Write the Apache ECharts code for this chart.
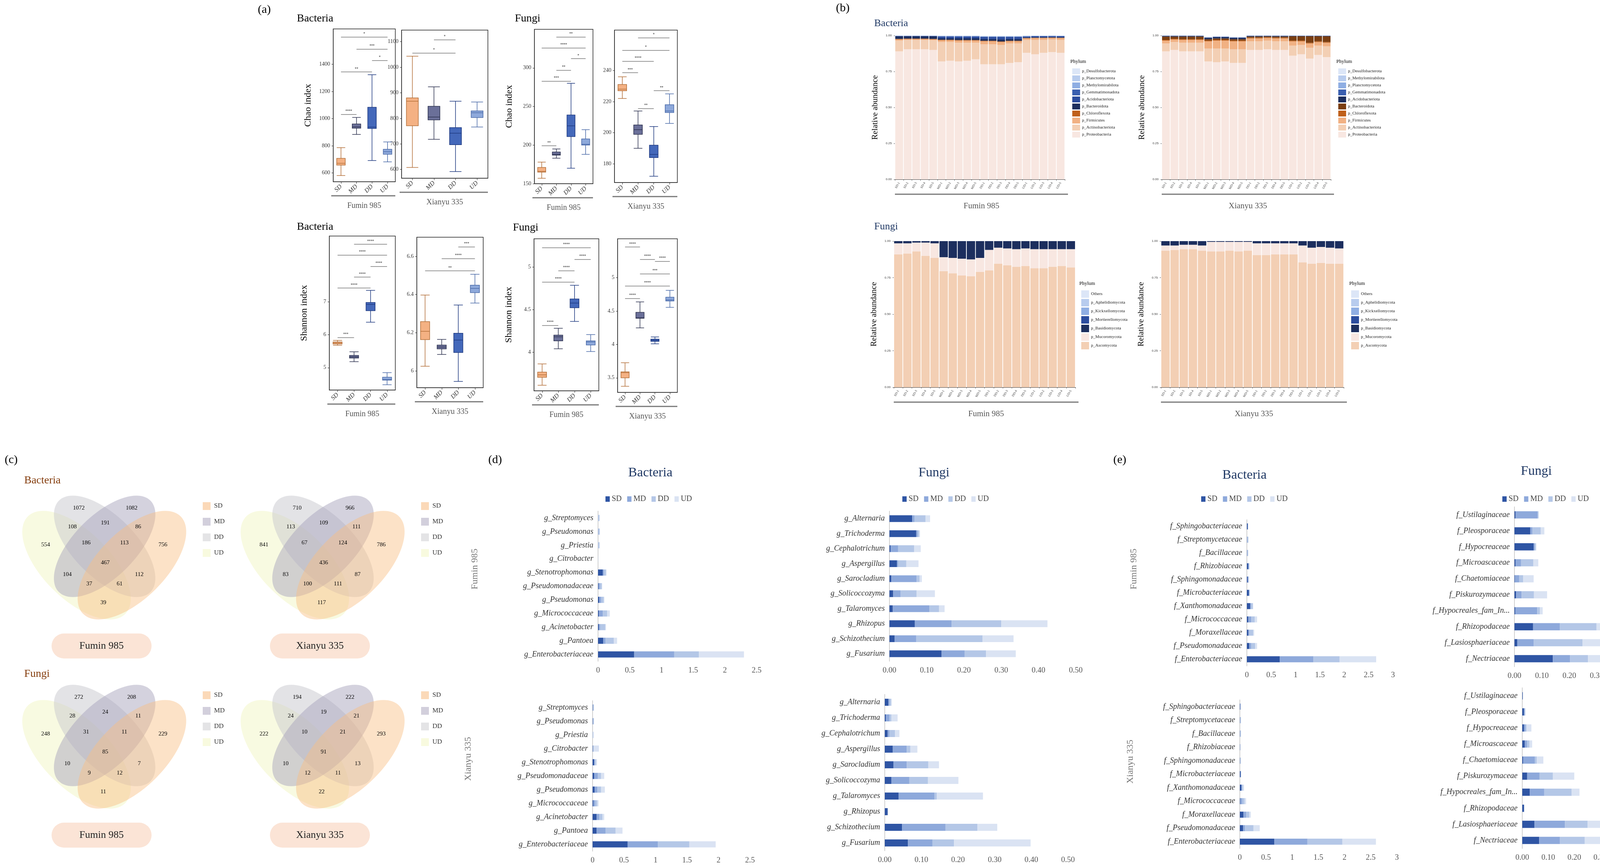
<!DOCTYPE html>
<html><head><meta charset="utf-8">
<script src="https://cdn.jsdelivr.net/npm/echarts@6/dist/echarts.min.js"></script>
<style>html,body{margin:0;padding:0;background:#fff;overflow:hidden}#c{width:4252px;height:2216px}</style>
</head><body><div id="c"></div>
<script>
// ---------- DATA ----------
const groups = ['SD','MD','DD','UD'];
// (a) boxplots [min,Q1,median,Q3,max]
const bactChaoFumin = [[580,657,671,707,786],[883,929,939,960,1008],[691,927,937,1083,1323],[681,737,756,774,828]];
const bactChaoXianyu = [[608,771,867,880,1043],[718,794,805,847,923],[592,697,742,764,867],[766,803,822,829,864]];
const fungiChaoFumin = [[157,165,166,171,178],[183,187,188,191,195],[170,211,225,239,280],[188,200,201,208,220]];
const fungiChaoXianyu = [[222,227,228,231,236],[190,199,202,205,214],[172,184,186,192,204],[206,213,214,218,225]];
const bactShanFumin = [[5.68,5.72,5.75,5.78,5.83],[5.18,5.29,5.33,5.37,5.48],[6.38,6.73,6.92,6.98,7.35],[4.48,4.62,4.64,4.71,4.85]];
const bactShanXianyu = [[6.024,6.164,6.207,6.258,6.397],[6.086,6.115,6.125,6.135,6.165],[5.945,6.096,6.161,6.197,6.345],[6.355,6.41,6.432,6.449,6.506]];
const fungiShanFumin = [[3.615,3.708,3.737,3.769,3.865],[4.042,4.135,4.183,4.202,4.282],[4.362,4.522,4.577,4.625,4.785],[4.01,4.087,4.122,4.135,4.208]];
const fungiShanXianyu = [[3.373,3.5,3.578,3.59,3.726],[4.248,4.392,4.40,4.482,4.638],[4.01,4.047,4.063,4.08,4.112],[4.556,4.651,4.667,4.708,4.811]];
// significance brackets [from, to, y, label]
const sigBCF = [[0,3,1600,'*'],[1,3,1511,'***'],[2,3,1428,'*'],[0,2,1343,'**'],[0,1,1030,'****']];
const sigBCX = [[1,2,1107,'*'],[0,2,1056,'*']];
const sigFCF = [[1,3,340,'**'],[0,3,326,'****'],[2,3,312,'*'],[1,2,297,'**'],[0,2,283,'***'],[0,1,199,'**']];
const sigFCX = [[1,3,261,'*'],[0,3,253,'*'],[0,2,246,'****'],[0,1,238.6,'***'],[2,3,227,'**'],[1,2,215.6,'**']];
const sigBSF = [[1,3,8.75,'****'],[0,3,8.42,'****'],[2,3,8.08,'****'],[1,2,7.75,'****'],[0,2,7.42,'****'],[0,1,5.92,'***']];
const sigBSX = [[2,3,6.65,'***'],[1,3,6.588,'****'],[0,3,6.524,'**']];
const sigFSF = [[0,3,5.228,'****'],[2,3,5.09,'****'],[1,2,4.955,'****'],[0,2,4.824,'****'],[0,1,4.317,'****']];
const sigFSX = [[0,1,5.46,'****'],[1,2,5.276,'****'],[2,3,5.247,'****'],[1,3,5.06,'***'],[0,3,4.877,'****'],[0,1,4.69,'****']];

// (b) relative abundance, 20 samples
const samples = ['SD-1','SD-2','SD-3','SD-4','SD-5','MD-1','MD-2','MD-3','MD-4','MD-5','DD-1','DD-2','DD-3','DD-4','DD-5','UD-1','UD-2','UD-3','UD-4','UD-5'];
const bacPhylaFumin = ['p_Desulfobacterota','p_Planctomycetota','p_Methylomirabilota','p_Gemmatimonadota','p_Acidobacteriota','p_Bacteroidota','p_Chloroflexota','p_Firmicutes','p_Actinobacteriota','p_Proteobacteria'];
const bacPhylaXianyu = ['p_Desulfobacterota','p_Methylomirabilota','p_Planctomycetota','p_Gemmatimonadota','p_Acidobacteriota','p_Bacteroidota','p_Chloroflexota','p_Firmicutes','p_Actinobacteriota','p_Proteobacteria'];
const bFumin = {
 p_Proteobacteria:[.89,.905,.905,.905,.90,.82,.825,.82,.825,.835,.80,.80,.80,.81,.815,.88,.87,.88,.885,.88],
 p_Actinobacteriota:[.075,.065,.065,.065,.068,.135,.13,.13,.125,.115,.14,.14,.135,.135,.13,.09,.10,.09,.088,.09],
 p_Firmicutes:[.008,.005,.005,.005,.005,.012,.012,.015,.015,.015,.02,.02,.02,.015,.015,.01,.012,.012,.01,.012],
 p_Chloroflexota:[.004,.004,.004,.004,.004,.004,.004,.004,.004,.004,.004,.004,.004,.004,.004,.003,.003,.003,.003,.003],
 p_Bacteroidota:[.018,.016,.016,.016,.018,.01,.01,.012,.012,.012,.012,.012,.014,.012,.012,.004,.004,.004,.004,.004],
 p_Acidobacteriota:[.002,.002,.002,.002,.002,.012,.012,.012,.012,.012,.014,.014,.017,.014,.014,.006,.006,.006,.006,.006],
 p_Gemmatimonadota:[.001,.001,.001,.001,.001,.003,.003,.003,.003,.003,.003,.003,.003,.003,.003,.003,.002,.002,.002,.002],
 p_Methylomirabilota:[.001,.001,.001,.001,.001,.002,.002,.002,.002,.002,.002,.002,.002,.002,.002,.002,.001,.001,.001,.001],
 p_Planctomycetota:[.001,.001,.001,.001,.001,.001,.001,.001,.001,.001,.002,.002,.002,.002,.002,.001,.001,.001,.001,.001],
 p_Desulfobacterota:[0,0,0,0,0,.001,.001,.001,.001,.001,.001,.001,.001,.001,.001,.001,.001,.001,.001,.001]
};
const bXianyu = {
 p_Proteobacteria:[.89,.90,.89,.89,.89,.82,.815,.82,.81,.81,.90,.90,.905,.90,.90,.86,.87,.84,.865,.85],
 p_Actinobacteriota:[.055,.055,.06,.06,.06,.09,.095,.09,.095,.095,.06,.06,.06,.06,.06,.07,.065,.075,.065,.075],
 p_Firmicutes:[.02,.018,.02,.02,.02,.05,.055,.055,.055,.055,.02,.02,.018,.02,.02,.03,.025,.03,.025,.025],
 p_Chloroflexota:[.005,.005,.005,.005,.005,.005,.005,.005,.005,.005,.005,.005,.005,.005,.005,.005,.005,.005,.005,.005],
 p_Bacteroidota:[.023,.015,.018,.018,.018,.01,.01,.01,.01,.01,.008,.008,.006,.008,.008,.03,.03,.045,.035,.04],
 p_Acidobacteriota:[.005,.005,.005,.005,.005,.01,.01,.01,.01,.01,.005,.005,.004,.005,.005,.003,.003,.003,.003,.003],
 p_Gemmatimonadota:[.001,.001,.001,.001,.001,.002,.002,.002,.002,.002,.001,.001,.001,.001,.001,.001,.001,.001,.001,.001],
 p_Planctomycetota:[.001,.001,.001,.001,.001,.001,.001,.001,.001,.001,.001,.001,.001,.001,.001,.001,.001,.001,.001,.001],
 p_Methylomirabilota:[0,0,0,0,0,.001,.001,.001,.001,.001,0,0,0,0,0,0,0,0,0,0],
 p_Desulfobacterota:[0,0,0,0,0,.001,.001,.001,.001,.001,0,0,0,0,0,0,0,0,0,0]
};
const fungiPhyla = ['Others','p_Aphelidiomycota','p_Kickxellomycota','p_Mortierellomycota','p_Basidiomycota','p_Mucoromycota','p_Ascomycota'];
const fFumin = {
 p_Ascomycota:[.91,.915,.93,.90,.885,.795,.78,.765,.76,.79,.80,.845,.835,.825,.83,.815,.815,.825,.83,.82],
 p_Mucoromycota:[.075,.07,.06,.09,.10,.095,.105,.115,.115,.095,.14,.11,.115,.12,.12,.13,.13,.12,.115,.125],
 p_Basidiomycota:[.015,.015,.01,.01,.015,.11,.115,.12,.125,.115,.06,.045,.05,.055,.05,.055,.055,.055,.055,.055]
};
const fXianyu = {
 p_Ascomycota:[.935,.94,.945,.945,.935,.93,.93,.935,.93,.935,.905,.905,.91,.91,.91,.855,.845,.85,.845,.845],
 p_Mucoromycota:[.035,.03,.03,.03,.035,.065,.065,.06,.065,.06,.08,.08,.075,.075,.075,.115,.11,.11,.11,.105],
 p_Basidiomycota:[.03,.03,.025,.025,.03,.005,.005,.005,.005,.005,.015,.015,.015,.015,.015,.03,.045,.04,.045,.05]
};

// (c) Venn counts (region order fixed)
const vennBactFumin = [554,1072,1082,756,108,191,86,186,113,467,104,112,37,61,39];
const vennBactXianyu = [841,710,966,786,113,109,111,67,124,436,83,87,100,111,117];
const vennFungiFumin = [248,272,208,229,28,24,11,31,11,85,10,7,9,12,11];
const vennFungiXianyu = [222,194,222,293,24,19,21,10,21,91,10,13,12,11,22];

// (d) genera, values [SD,MD,DD,UD]
const genusBact = ['g_Streptomyces','g_Pseudomonas','g_Priestia','g_Citrobacter','g_Stenotrophomonas','g_Pseudomonadaceae','g_Pseudomonas ','g_Micrococcaceae','g_Acinetobacter','g_Pantoea','g_Enterobacteriaceae'];
const genusFungi = ['g_Alternaria','g_Trichoderma','g_Cephalotrichum','g_Aspergillus','g_Sarocladium','g_Solicoccozyma','g_Talaromyces','g_Rhizopus','g_Schizothecium','g_Fusarium'];
const dBactFumin = [[0,0,.02,.01],[0,.005,.02,.005],[0,0,.02,.01],[0,0,.003,.002],[.075,.02,.03,.01],[.01,.02,.03,.005],[.02,.03,.04,.01],[.015,.06,.07,.04],[.015,.02,.08,.01],[.08,.04,.13,.05],[.57,.63,.39,.71]];
const dFungiFumin = [[.061,.006,.03,.012],[.072,.004,.004,.002],[.003,.02,.043,.018],[.02,.003,.022,.033],[.005,.068,.008,.006],[.01,.02,.043,.049],[.009,.098,.026,.015],[.068,.099,.133,.124],[.014,.058,.178,.083],[.14,.062,.057,.08]];
const dBactXianyu = [[.005,0,.015,.005],[.005,0,.015,.005],[0,0,.01,.01],[.005,.005,.01,.08],[.025,.01,.02,.015],[.025,.06,.05,.05],[.035,.04,.06,.06],[.015,.03,.03,.02],[.065,.04,.05,.03],[.065,.14,.16,.11],[.557,.48,.5,.418]];
const dFungiXianyu = [[.01,.003,.004,.002],[.003,.01,.005,.017],[.008,.005,.015,.012],[.022,.038,.01,.019],[.024,.036,.059,.029],[.018,.049,.051,.083],[.038,.098,.006,.126],[.008,0,0,0],[.047,.119,.087,.054],[.063,.067,.059,.209]];
// (e) families
const famBact = ['f_Sphingobacteriaceae','f_Streptomycetaceae','f_Bacillaceae','f_Rhizobiaceae','f_Sphingomonadaceae','f_Microbacteriaceae','f_Xanthomonadaceae','f_Micrococcaceae','f_Moraxellaceae','f_Pseudomonadaceae','f_Enterobacteriaceae'];
const famFungi = ['f_Ustilaginaceae','f_Pleosporaceae','f_Hypocreaceae','f_Microascaceae','f_Chaetomiaceae','f_Piskurozymaceae','f_Hypocreales_fam_Incertae_sedis','f_Rhizopodaceae','f_Lasiosphaeriaceae','f_Nectriaceae'];
const eBactFumin = [[.02,0,.005,.005],[.005,.005,.02,.005],[.005,.005,.015,.005],[.03,.01,.01,.005],[.02,.01,.01,.005],[.04,.01,.01,.005],[.07,.01,.04,.01],[.03,.06,.07,.05],[.03,.02,.08,.02],[.05,.04,.08,.04],[.675,.69,.54,.75]];
const eFungiFumin = [[.004,.08,.003,.002],[.058,.008,.03,.013],[.07,.004,.004,.002],[.004,.02,.045,.018],[.002,.015,.015,.038],[.006,.02,.045,.048],[.003,.08,.01,.01],[.068,.098,.133,.124],[.01,.06,.178,.083],[.14,.063,.065,.086]];
const eBactXianyu = [[.01,0,.005,.005],[.005,.005,.01,.005],[.005,.005,.01,.005],[.005,0,.005,.005],[.005,.005,.005,.005],[.015,.005,.005,.005],[.03,.01,.02,.02],[.01,.04,.04,.03],[.07,.05,.06,.03],[.06,.04,.16,.12],[.66,.63,.67,.64]];
const eFungiXianyu = [[.002,0,0,0],[.007,.002,.002,.002],[.007,.005,.005,.018],[.01,.008,.01,.01],[.003,.045,.008,.025],[.019,.047,.052,.082],[.029,.055,.106,.03],[.007,0,0,0],[.047,.117,.087,.054],[.065,.08,.095,.22]];

// ---------- BUILD ----------
const SERIF = 'Liberation Serif';
const grid=[],xAxis=[],yAxis=[],series=[],legend=[],graphic=[];
function txt(x,y,text,size,opt){graphic.push(Object.assign({type:'text',x,y,z:50,style:Object.assign({text,font:size+'px "'+SERIF+'"',fill:'#000',textAlign:'left',textVerticalAlign:'middle'},opt||{})}));}
function line(x1,y1,x2,y2,color,w){graphic.push({type:'line',z:50,shape:{x1,y1,x2,y2},style:{stroke:color,lineWidth:w}});}
function mkGrid(o){return Object.assign({containLabel:false,outerBoundsMode:'none'},o);}

// (a)
const boxColors=['#F4B183','#6B7099','#4468BA','#8EA9DB'];
const boxBorders=['#B4703A','#2E3350','#1F3A80','#4A6AA8'];
const A=[
 {l:853,t:74,w:159,h:391,d:bactChaoFumin,s:sigBCF,r:[535,1660],tk:[600,800,1000,1200,1400],n:'Chao index',g:'Fumin 985'},
 {l:1028,t:77,w:221,h:379,d:bactChaoXianyu,s:sigBCX,r:[566,1145],tk:[600,700,800,900,1000,1100],g:'Xianyu 335'},
 {l:1368,t:75,w:150,h:395,d:fungiChaoFumin,s:sigFCF,r:[150,350],tk:[150,200,250,300],n:'Chao index',g:'Fumin 985'},
 {l:1573,t:77,w:161,h:390,d:fungiChaoXianyu,s:sigFCX,r:[168,266],tk:[180,200,220,240],g:'Xianyu 335'},
 {l:843,t:604,w:169,h:394,d:bactShanFumin,s:sigBSF,r:[4.32,9.0],tk:[5,6,7],n:'Shannon index',g:'Fumin 985'},
 {l:1067,t:607,w:170,h:385,d:bactShanXianyu,s:sigBSX,r:[5.912,6.70],tk:[6,6.2,6.4,6.6],g:'Xianyu 335'},
 {l:1367,t:611,w:166,h:389,d:fungiShanFumin,s:sigFSF,r:[3.55,5.33],tk:[4,4.5,5],n:'Shannon index',g:'Fumin 985'},
 {l:1581,t:611,w:153,h:393,d:fungiShanXianyu,s:sigFSX,r:[3.282,5.584],tk:[3.5,4,4.5,5],g:'Xianyu 335'}
];
A.forEach(p=>{
 const gi=grid.length;
 grid.push(mkGrid({left:p.l,top:p.t,width:p.w,height:p.h,show:true,borderColor:'#222',borderWidth:1.5,backgroundColor:'transparent'}));
 xAxis.push({type:'category',gridIndex:gi,data:groups,axisLine:{lineStyle:{color:'#222'}},axisTick:{show:true,alignWithLabel:true,length:5},axisLabel:{rotate:45,fontFamily:SERIF,fontStyle:'italic',fontSize:16,color:'#333',margin:10}});
 yAxis.push({type:'value',gridIndex:gi,min:p.r[0],max:p.r[1],splitLine:{show:false},axisLine:{show:true,lineStyle:{color:'#222'}},
  axisTick:{show:true,length:4,customValues:p.tk},axisLabel:{customValues:p.tk,formatter:v=>String(v),fontFamily:SERIF,fontSize:14,color:'#333'},
  name:p.n||'',nameLocation:'middle',nameGap:52,nameTextStyle:{fontFamily:SERIF,fontSize:24,color:'#000'}});
 series.push({type:'boxplot',xAxisIndex:gi,yAxisIndex:gi,boxWidth:['40%','55%'],
  data:p.d.map((v,i)=>({value:v,itemStyle:{color:boxColors[i],borderColor:boxBorders[i],borderWidth:1.5}})),
  markLine:{silent:true,symbol:'none',lineStyle:{color:'#777',width:1.5,type:'solid'},
   label:{position:'middle',formatter:'{b}',fontSize:11,color:'#333',distance:2},
   data:p.s.map(s=>[{coord:[s[0],s[2]],name:s[3]},{coord:[s[1],s[2]]}])}});
 line(p.l-5,p.t+p.h+36,p.l+p.w,p.t+p.h+36,'#777',3);
 txt(p.l+p.w/2,p.t+p.h+62,p.g,20,{textAlign:'center',fill:'#555'});
});
txt(660,25,'(a)',30);
txt(760,48,'Bacteria',28);txt(1318,48,'Fungi',28);
txt(760,581,'Bacteria',28);txt(1313,583,'Fungi',28);

// (b)
const colBF={p_Desulfobacterota:'#DCE6F7',p_Planctomycetota:'#B8CCEE',p_Methylomirabilota:'#8FAEE3',p_Gemmatimonadota:'#3A5FB0',p_Acidobacteriota:'#2B4C9E',p_Bacteroidota:'#1C2E5E',p_Chloroflexota:'#C0601A',p_Firmicutes:'#F1B183',p_Actinobacteriota:'#F3CFB4',p_Proteobacteria:'#F8E7E1'};
const colBX={p_Desulfobacterota:'#DCE6F7',p_Methylomirabilota:'#B8CCEE',p_Planctomycetota:'#8FAEE3',p_Gemmatimonadota:'#3A5FB0',p_Acidobacteriota:'#1C2E5E',p_Bacteroidota:'#7A3E12',p_Chloroflexota:'#C0601A',p_Firmicutes:'#F1B183',p_Actinobacteriota:'#F3CFB4',p_Proteobacteria:'#F8E7E1'};
const colF={Others:'#DCE6F7',p_Aphelidiomycota:'#B8CCEE',p_Kickxellomycota:'#8FAEE3',p_Mortierellomycota:'#2B4C9E',p_Basidiomycota:'#1C2E5E',p_Mucoromycota:'#F8E7E1',p_Ascomycota:'#F3CFB4'};
const B=[
 {l:2291,t:91,w:435,h:368,data:bFumin,names:bacPhylaFumin,col:colBF,sfx:'',lx:2740,ly:170,gap:3,ih:15,g:'Fumin 985'},
 {l:2974,t:91,w:433,h:368,data:bXianyu,names:bacPhylaXianyu,col:colBX,sfx:'\u200b',lx:3421,ly:170,gap:3,ih:15,g:'Xianyu 335'},
 {l:2288,t:617,w:465,h:374,data:fFumin,names:fungiPhyla,col:colF,sfx:'\u200c',lx:2763,ly:738,gap:3,ih:19,g:'Fumin 985'},
 {l:2972,t:617,w:468,h:374,data:fXianyu,names:fungiPhyla,col:colF,sfx:'\u200d',lx:3454,ly:738,gap:3,ih:19,g:'Xianyu 335'}
];
B.forEach(p=>{
 const gi=grid.length;
 grid.push(mkGrid({left:p.l,top:p.t,width:p.w,height:p.h}));
 xAxis.push({type:'category',gridIndex:gi,data:samples,axisLine:{lineStyle:{color:'#444'}},axisTick:{show:true,length:3},axisLabel:{rotate:60,fontSize:8,color:'#333',interval:0,fontFamily:'Liberation Sans Narrow'}});
 yAxis.push({type:'value',gridIndex:gi,min:0,max:1,interval:0.25,splitLine:{show:false},axisLine:{show:false},axisTick:{show:true,length:3},axisLabel:{fontSize:8,color:'#333',formatter:v=>v.toFixed(2)},
  name:'Relative abundance',nameLocation:'middle',nameGap:40,nameTextStyle:{fontFamily:SERIF,fontSize:21,color:'#000'}});
 const order=p.names.slice().reverse();
 order.forEach(n=>{
  const vals=p.data[n]||samples.map(()=>0);
  series.push({type:'bar',name:n+p.sfx,stack:'s'+gi,xAxisIndex:gi,yAxisIndex:gi,barCategoryGap:'8%',data:vals,itemStyle:{color:p.col[n]},clip:true});
 });
 legend.push({orient:'vertical',left:p.lx,top:p.ly,itemWidth:20,itemHeight:p.ih,itemGap:p.gap,icon:'rect',data:p.names.map(n=>n+p.sfx),textStyle:{fontSize:11,color:'#222',fontFamily:'Liberation Sans Narrow'},selectedMode:false});
 txt(p.lx,p.ly-12,'Phylum',13,{font:'13px "Liberation Sans Narrow"'});
 line(p.l,p.t+p.h+38,p.l+p.w+8,p.t+p.h+38,'#777',3);
 txt(p.l+p.w/2+4,p.t+p.h+68,p.g,21,{textAlign:'center',fill:'#555'});
});
txt(2140,21,'(b)',30);
txt(2238,60,'Bacteria',26,{fill:'#1F3864'});
txt(2238,580,'Fungi',26,{fill:'#1F3864'});

// (c) Venn
const vennOffsets=[[-210,-5],[-92,-136],[96,-136],[207,-5],[-115,-69],[2,-83],[119,-69],[-66,-12],[70,-12],[2,58],[-133,100],[123,100],[-55,133],[53,133],[-5,200]];
const ell=[ // [dx,dy,rx,ry,rot,color]
 [-100,67,245,120,-Math.PI/4,'rgba(243,245,200,0.55)'],
 [0,0,230,110,-Math.PI/4,'rgba(200,200,205,0.5)'],
 [0,0,230,110,Math.PI/4,'rgba(170,165,190,0.5)'],
 [97,67,245,120,Math.PI/4,'rgba(249,190,130,0.45)']
];
const K=0.72;
const V=[[268,1398,vennBactFumin,'Fumin 985'],[827,1398,vennBactXianyu,'Xianyu 335'],[268,1882,vennFungiFumin,'Fumin 985'],[827,1882,vennFungiXianyu,'Xianyu 335']];
const vennLeg=[['SD','#FBD9B8'],['MD','#D2CFDC'],['DD','#E4E4E6'],['UD','#F8FADF']];
V.forEach(([cx,cy,vals,lab])=>{
 ell.forEach(e=>graphic.push({type:'ellipse',x:cx+e[0]*K,y:cy+e[1]*K,rotation:e[4],z:10,shape:{cx:0,cy:0,rx:e[2]*K,ry:e[3]*K},style:{fill:e[5]}}));
 vals.forEach((v,i)=>txt(cx+vennOffsets[i][0]*K,cy+vennOffsets[i][1]*K,String(v),15,{textAlign:'center'}));
 vennLeg.forEach((l,i)=>{
  graphic.push({type:'rect',z:20,shape:{x:cx+251,y:cy-113+i*40,width:20,height:20},style:{fill:l[1]}});
  txt(cx+280,cy-103+i*40,l[0],17,{fill:'#333'});
 });
 graphic.push({type:'rect',z:20,shape:{x:cx-136,y:cy+223,width:256,height:64,r:32},style:{fill:'#FBE4D6'}});
 txt(cx-8,cy+255,lab,26,{textAlign:'center',fill:'#222'});
});
txt(12,1177,'(c)',30);
txt(62,1230,'Bacteria',28,{fill:'#843C0C'});
txt(62,1725,'Fungi',28,{fill:'#843C0C'});

// (d) & (e)
const stCol=['#2F55A4','#8EA9DB','#B4C7E7','#DAE3F3'];
const H=[
 {l:1531,t:1308,w:406,h:384,c:genusBact,d:dBactFumin,max:2.5,iv:0.5,f:0},
 {l:2277,t:1308,w:477,h:384,c:genusFungi,d:dFungiFumin,max:0.5,iv:0.1,f:2},
 {l:1517,t:1793,w:403,h:385,c:genusBact,d:dBactXianyu,max:2.5,iv:0.5,f:0},
 {l:2265,t:1777,w:469,h:400,c:genusFungi,d:dFungiXianyu,max:0.5,iv:0.1,f:2},
 {l:3192,t:1330,w:374,h:374,c:famBact,d:eBactFumin,max:3,iv:0.5,f:0},
 {l:3877,t:1297,w:351,h:409,c:famFungi,d:eFungiFumin,max:0.5,iv:0.1,f:2},
 {l:3174,t:1791,w:402,h:380,c:famBact,d:eBactXianyu,max:3,iv:0.5,f:0},
 {l:3897,t:1760,w:333,h:411,c:famFungi,d:eFungiXianyu,max:0.5,iv:0.1,f:2}
];
H.forEach(p=>{
 const gi=grid.length;
 grid.push(mkGrid({left:p.l,top:p.t,width:p.w,height:p.h}));
 xAxis.push({type:'value',gridIndex:gi,min:0,max:p.max,interval:p.iv,splitLine:{show:false},axisLine:{show:false},axisTick:{show:false},
  axisLabel:{fontFamily:SERIF,fontSize:20,color:'#555',margin:14,formatter:v=>p.f?v.toFixed(2):String(+v.toFixed(1))}});
 yAxis.push({type:'category',gridIndex:gi,inverse:true,data:p.c,axisLine:{lineStyle:{color:'#D0D0D0',width:2}},axisTick:{show:false},
  axisLabel:{fontFamily:SERIF,fontStyle:'italic',fontSize:20,color:'#333',margin:12,width:200,overflow:'truncate',formatter:v=>v.trim()}});
 groups.forEach((g,k)=>series.push({type:'bar',name:g,stack:'h'+gi,xAxisIndex:gi,yAxisIndex:gi,barWidth:'45%',data:p.d.map(r=>r[k]),itemStyle:{color:stCol[k]}}));
});
[[1545,1262],[2305,1262],[3070,1262],[3841,1262]].forEach(([x,y])=>legend.push({left:x,top:y,icon:'rect',itemWidth:11,itemHeight:14,itemGap:14,data:groups,textStyle:{fontFamily:SERIF,fontSize:20,color:'#444'},selectedMode:false}));
txt(1250,1177,'(d)',30);txt(2850,1177,'(e)',30);
txt(1665,1210,'Bacteria',34,{textAlign:'center',fill:'#1F3864'});
txt(2391,1210,'Fungi',34,{textAlign:'center',fill:'#1F3864'});
txt(3186,1216,'Bacteria',34,{textAlign:'center',fill:'#1F3864'});
txt(3933,1206,'Fungi',34,{textAlign:'center',fill:'#1F3864'});
[[1216,1456,'Fumin 985'],[1199,1942,'Xianyu 335'],[2903,1456,'Fumin 985'],[2894,1949,'Xianyu 335']].forEach(([x,y,t])=>
 graphic.push({type:'text',x,y,rotation:Math.PI/2,z:50,style:{text:t,font:'24px "'+SERIF+'"',fill:'#777',textAlign:'center',textVerticalAlign:'middle'}}));

const chart=echarts.init(document.getElementById('c'),null,{renderer:'canvas'});
chart.setOption({backgroundColor:'#fff',animation:false,grid,xAxis,yAxis,series,legend,graphic});
</script></body></html>
